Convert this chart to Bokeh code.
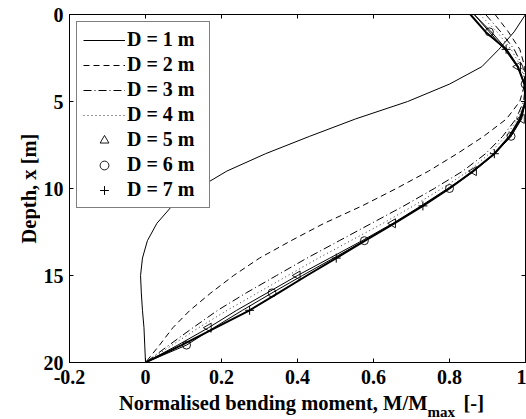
import math
from bokeh.plotting import figure
from bokeh.layouts import column, row
from bokeh.models import (Range1d, LinearAxis, Label, Legend, LegendItem,
                          FixedTicker)
from bokeh.core.validation import silence
from bokeh.core.validation.warnings import MISSING_RENDERERS
from bokeh.embed import file_html
from bokeh.resources import INLINE

silence(MISSING_RENDERERS, True)

# Depth below ground [m]
depth = list(range(0, 21))

# Normalised bending moment M/Mmax along the pile, one series per diameter
m_d1 = [1.000, 0.970, 0.930, 0.885, 0.800, 0.690, 0.553, 0.432, 0.316, 0.214,
        0.137, 0.070, 0.030, 0.005, -0.008, -0.013, -0.011, -0.008, -0.004,
        -0.002, 0.000]
m_d2 = [0.920, 0.955, 0.985, 0.998, 0.998, 0.985, 0.950, 0.890, 0.820, 0.745,
        0.660, 0.570, 0.470, 0.383, 0.300, 0.232, 0.172, 0.117, 0.072, 0.037,
        0.000]
m_d3 = [0.895, 0.935, 0.970, 0.993, 1.000, 0.995, 0.975, 0.940, 0.895, 0.835,
        0.760, 0.680, 0.595, 0.510, 0.425, 0.345, 0.265, 0.190, 0.125, 0.062,
        0.000]
m_d4 = [0.880, 0.925, 0.962, 0.988, 1.000, 0.998, 0.980, 0.948, 0.905, 0.850,
        0.780, 0.705, 0.625, 0.540, 0.455, 0.375, 0.295, 0.215, 0.140, 0.070,
        0.000]
m_d5 = [0.865, 0.910, 0.950, 0.980, 0.997, 1.000, 0.990, 0.962, 0.918, 0.864,
        0.795, 0.725, 0.651, 0.570, 0.485, 0.400, 0.320, 0.240, 0.166, 0.085,
        0.000]
m_d6 = [0.865, 0.905, 0.945, 0.978, 0.999, 1.000, 0.988, 0.962, 0.920, 0.865,
        0.800, 0.730, 0.655, 0.576, 0.495, 0.413, 0.333, 0.255, 0.180, 0.108,
        0.000]
m_d7 = [0.855, 0.895, 0.949, 0.980, 0.997, 1.000, 0.985, 0.958, 0.918, 0.862,
        0.800, 0.730, 0.655, 0.578, 0.502, 0.425, 0.350, 0.274, 0.185, 0.095,
        0.000]

series_labels = ["D = 1 m", "D = 2 m", "D = 3 m", "D = 4 m",
                 "D = 5 m", "D = 6 m", "D = 7 m"]

x_ticks = [-0.2, 0, 0.2, 0.4, 0.6, 0.8, 1]
x_tick_labels = ["-0.2", "0", "0.2", "0.4", "0.6", "0.8", "1"]
y_ticks = [0, 5, 10, 15, 20]

FONT = "Liberation Serif"

# page of 526 x 419: y-title strip | plot, with an x-title strip underneath
LEFT_W, MAIN_W = 40, 486
MAIN_H, BOTTOM_H = 392, 27


def text_strip(width, height, y_range):
    """Axis-free canvas that only carries a title."""
    return figure(width=width, height=height, title=None,
                  x_range=Range1d(0, width), y_range=y_range,
                  output_backend="svg", toolbar_location=None,
                  x_axis_type=None, y_axis_type=None, min_border=0,
                  outline_line_color=None,
                  background_fill_color="white", border_fill_color="white")


p = figure(width=MAIN_W, height=MAIN_H, title=None,
           x_range=Range1d(-0.2, 1.0), y_range=Range1d(20, 0),
           output_backend="svg", toolbar_location=None,
           min_border_left=29, min_border_right=1,
           min_border_top=14, min_border_bottom=30,
           background_fill_color="white", border_fill_color="white")
p.xgrid.visible = False
p.ygrid.visible = False
p.outline_line_color = "black"
p.outline_line_width = 1

# main axes: inward ticks, bold serif labels
xa = p.xaxis[0]
ya = p.yaxis[0]
xa.ticker = FixedTicker(ticks=x_ticks)
xa.major_label_overrides = dict(zip(x_ticks, x_tick_labels))
ya.ticker = FixedTicker(ticks=y_ticks)
for ax in (xa, ya):
    ax.major_tick_in = 4
    ax.major_tick_out = 0
    ax.minor_tick_line_color = None
    ax.axis_line_color = "black"
    ax.major_tick_line_color = "black"
    ax.major_label_text_font = FONT
    ax.major_label_text_font_style = "bold"
    ax.major_label_text_font_size = "20px"
    ax.major_label_text_color = "black"
xa.major_label_standoff = 7
ya.major_label_standoff = 6

# box-style frame: tick marks on the top and right edges too
top_ax = LinearAxis(ticker=FixedTicker(ticks=x_ticks), major_tick_in=4,
                    major_tick_out=0, minor_tick_line_color=None,
                    major_label_text_font_size="0px", major_label_standoff=0,
                    axis_line_color="black")
right_ax = LinearAxis(ticker=FixedTicker(ticks=y_ticks), major_tick_in=4,
                      major_tick_out=0, minor_tick_line_color=None,
                      major_label_text_font_size="0px", major_label_standoff=0,
                      axis_line_color="black")
p.add_layout(top_ax, "above")
p.add_layout(right_ax, "right")

# curves
r1 = p.line(m_d1, depth, line_color="black", line_width=1)
r2 = p.line(m_d2, depth, line_color="black", line_width=1, line_dash="6 4")
r3 = p.line(m_d3, depth, line_color="black", line_width=1, line_dash="8 3 1 3")
r4 = p.line(m_d4, depth, line_color="#333333", line_width=1, line_dash="1 3")
p.line(m_d5, depth, line_color="black", line_width=1)
p.line(m_d6, depth, line_color="black", line_width=1)
p.line(m_d7, depth, line_color="black", line_width=2)

# markers every third point, staggered between series
r5 = p.scatter(m_d5[3::3], depth[3::3], marker="triangle", angle=math.pi / 2,
               size=9, line_color="black", line_width=0.9, fill_alpha=0)
r6 = p.scatter(m_d6[1::3], depth[1::3], marker="circle", size=8,
               line_color="black", line_width=0.9, fill_alpha=0)
r7 = p.scatter(m_d7[2::3], depth[2::3], marker="cross", size=9,
               line_color="black", line_width=1)

legend = Legend(items=[LegendItem(label=lab, renderers=[r])
                       for lab, r in zip(series_labels,
                                         [r1, r2, r3, r4, r5, r6, r7])],
                location="top_left", margin=7, padding=6, spacing=2,
                glyph_height=22, glyph_width=42, label_height=22,
                label_width=76, label_standoff=2,
                label_text_font=FONT, label_text_font_style="bold",
                label_text_font_size="20px", label_text_color="black",
                border_line_color="black", border_line_width=1,
                background_fill_color="white", background_fill_alpha=1)
p.add_layout(legend)

# y-axis title strip; its frame lines up with the plot frame, so it shares
# the depth scale and the title is centred on mid-depth
left = text_strip(LEFT_W, MAIN_H, Range1d(20, 0))
left.add_layout(Label(x=28, y=10, text="Depth, x [m]", angle=math.pi / 2,
                      text_align="center", text_baseline="middle",
                      text_font=FONT, text_font_style="bold",
                      text_font_size="20.5px", text_color="black"))

# x-axis title strip (pixel units from its top-left), subscript set lower
bottom = text_strip(LEFT_W + MAIN_W, BOTTOM_H, Range1d(BOTTOM_H, 0))
bottom.add_layout(Label(x=427, y=10.5, text="Normalised bending moment, M/M",
                        text_align="right", text_baseline="alphabetic",
                        text_font=FONT, text_font_style="bold",
                        text_font_size="20.5px", text_color="black"))
bottom.add_layout(Label(x=427, y=19, text="max",
                        text_align="left", text_baseline="alphabetic",
                        text_font=FONT, text_font_style="bold",
                        text_font_size="15px", text_color="black"))
bottom.add_layout(Label(x=463, y=10.5, text="[-]",
                        text_align="left", text_baseline="alphabetic",
                        text_font=FONT, text_font_style="bold",
                        text_font_size="20.5px", text_color="black"))

page = column(row(left, p, spacing=0), bottom, spacing=0)

open("out.html", "w").write(file_html(page, INLINE))
